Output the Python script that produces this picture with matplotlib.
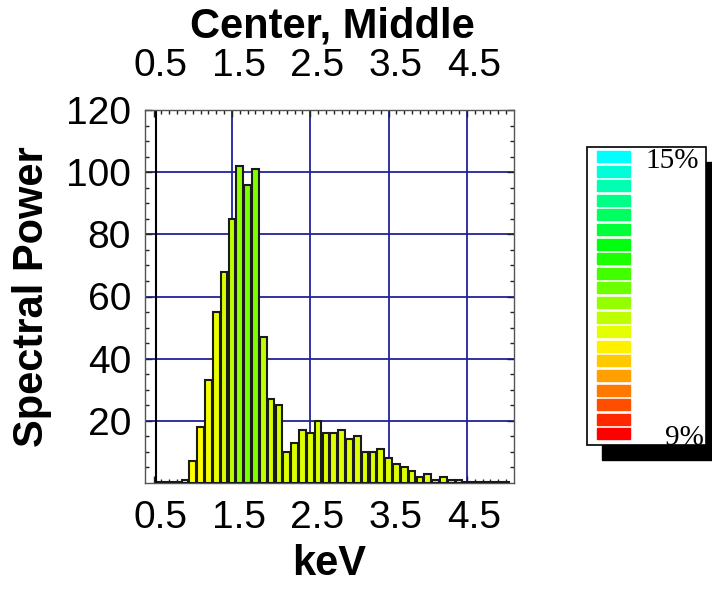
import matplotlib
matplotlib.use("Agg")
import matplotlib.pyplot as plt
import matplotlib.transforms as mtransforms
from matplotlib.colors import hsv_to_rgb, LinearSegmentedColormap, Normalize
from matplotlib.patches import Rectangle
import numpy as np

plt.rcParams['font.family'] = ['Liberation Sans', 'DejaVu Sans']

# energy bins (keV) and spectral power per bin
kev = [0.6, 0.7, 0.8, 0.9, 1.0, 1.1, 1.2, 1.3, 1.4, 1.5,
       1.6, 1.7, 1.8, 1.9, 2.0, 2.1, 2.2, 2.3, 2.4, 2.5,
       2.6, 2.7, 2.8, 2.9, 3.0, 3.1, 3.2, 3.3, 3.4, 3.5,
       3.6, 3.7, 3.8, 3.9, 4.0, 4.1, 4.2, 4.3, 4.4, 4.5,
       4.6, 4.7, 4.8, 4.9, 5.0]
power = [0.3, 0.3, 0.3, 1, 7, 18, 33, 55, 68, 85,
         102, 96, 101, 47, 27, 25, 10, 13, 17, 16,
         20, 16, 16, 17, 14, 15, 10, 10, 11, 8,
         6, 5, 4, 2, 3, 1, 2, 1, 1, 0.3,
         0.3, 0.3, 0.3, 0.3, 0.3]
# percentage used for the bar colour scale (9% .. 15%)
ratio = [11.0, 11.0, 11.0, 11.0, 11.0, 11.0, 11.07, 11.17, 11.3, 11.53,
         11.87, 12.07, 12.0, 11.53, 11.33, 11.33, 11.27, 11.27, 11.27, 11.27,
         11.3, 11.27, 11.27, 11.27, 11.27, 11.27, 11.27, 11.27, 11.27, 11.27,
         11.27, 11.27, 11.27, 11.27, 11.2, 11.2, 11.2, 11.2, 11.2, 11.07,
         11.07, 11.07, 11.07, 11.07, 11.07]

xticks = [0.5, 1.5, 2.5, 3.5, 4.5]
yticks = [20, 40, 60, 80, 100, 120]
scale_lo, scale_hi = 9, 15
n_levels = 20

hues = np.linspace(0, 0.5, 64)
cmap = LinearSegmentedColormap.from_list(
    'spec', hsv_to_rgb(np.column_stack([hues, np.ones(64), np.ones(64)])))
norm = Normalize(scale_lo, scale_hi)

fig = plt.figure(figsize=(7.12, 5.91), dpi=100)
W, H = 712, 591
ax = fig.add_axes([145 / W, 1 - 483 / H, (514 - 145) / W, (483 - 110) / H])

grid_c = '#22229a'
for x in xticks[1:]:
    ax.axvline(x, color=grid_c, lw=1.3, zorder=1)
for y in yticks[:-1]:
    ax.axhline(y, color=grid_c, lw=1.3, zorder=1)
ax.axvline(0.53, color='black', lw=1.5, zorder=1)

ax.bar(kev, power, width=0.085, color=cmap(norm(ratio)),
       edgecolor='#1a1a1a', linewidth=1.5, zorder=3)

ax.set_xlim(0.39, 5.1)
ax.set_ylim(0, 120)
ax.set_xticks(xticks)
ax.set_yticks(yticks)
ax.set_xticks(np.arange(0.5, 5.05, 0.1), minor=True)
ax.set_yticks(np.arange(5, 120, 5), minor=True)
ax.tick_params(which='both', direction='in', top=True, right=True,
               labeltop=True, labelsize=28, color='#222222')
ax.tick_params(which='major', length=5, width=1)
ax.tick_params(which='minor', length=3, width=1)
ax.tick_params(axis='x', which='major', pad=12)
ax.tick_params(axis='y', which='major', pad=10)
for sp in ax.spines.values():
    sp.set_color('#555555')
    sp.set_linewidth(1)

# tick labels sit a little right of their ticks; top row sits higher
low = mtransforms.ScaledTranslation(7 / 100, 0, fig.dpi_scale_trans)
high = mtransforms.ScaledTranslation(7 / 100, 9 / 100, fig.dpi_scale_trans)
for t in ax.xaxis.get_major_ticks():
    t.label1.set_transform(t.label1.get_transform() + low)
    t.label2.set_transform(t.label2.get_transform() + high)

ax.set_xlabel('keV', fontsize=30, fontweight='bold', labelpad=6)
ax.set_ylabel('Spectral Power', fontsize=30, fontweight='bold', labelpad=10)
fig.text(332 / W, 1 - 38 / H, 'Center, Middle', fontsize=30, fontweight='bold',
         ha='center', va='baseline')

# colour key with drop shadow
lg = fig.add_axes([587 / W, 1 - 445 / H, (706 - 587) / W, (445 - 147) / H])
lg.set_xlim(0, 119)
lg.set_ylim(298, 0)
lg.axis('off')
lg.add_patch(Rectangle((15, 15), 119, 298, color='black', clip_on=False, zorder=0))
lg.add_patch(Rectangle((0, 0), 119, 298, facecolor='white', edgecolor='black',
                       lw=1.2, clip_on=False, zorder=1))
levels = np.linspace(scale_hi, scale_lo, n_levels)
for i, v in enumerate(levels):
    lg.add_patch(Rectangle((10, 4 + i * 14.6), 33, 11, color=cmap(norm(v)),
                           zorder=2))
lg.text(58, 21, '%d%%' % scale_hi, fontsize=21, family='Liberation Serif',
        va='baseline', zorder=3)
lg.text(78, 298, '%d%%' % scale_lo, fontsize=21, family='Liberation Serif',
        va='baseline', zorder=3)

fig.savefig('out.png', dpi=100)
